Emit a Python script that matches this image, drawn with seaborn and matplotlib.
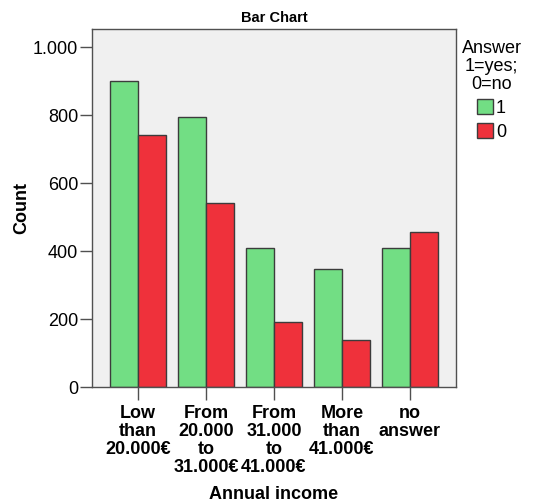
import pandas as pd
import matplotlib
matplotlib.use("Agg")
import matplotlib.pyplot as plt
import seaborn as sns
from matplotlib.ticker import FuncFormatter

# values
income = ["Low\nthan\n20.000€", "From\n20.000\nto\n31.000€", "From\n31.000\nto\n41.000€",
          "More\nthan\n41.000€", "no\nanswer"]
answer_yes = [901, 793, 409, 348, 409]
answer_no = [741, 542, 192, 139, 456]

df = pd.DataFrame({
    "income": income * 2,
    "answer": ["1"] * len(income) + ["0"] * len(income),
    "count": answer_yes + answer_no,
})

sns.set_style("white")
plt.rcParams['font.family'] = ['Liberation Sans', 'DejaVu Sans']
plt.rcParams['text.color'] = 'black'
plt.rcParams['axes.labelcolor'] = 'black'
plt.rcParams['xtick.labelcolor'] = 'black'
plt.rcParams['ytick.labelcolor'] = 'black'

fig = plt.figure(figsize=(5.44, 5.03), dpi=100)
ax = fig.add_axes([0.169, 0.2306, 0.669, 0.7117])
ax.set_facecolor("#f0f0f0")

sns.barplot(data=df, x="income", y="count", hue="answer", hue_order=["1", "0"],
            palette={"1": "#72de84", "0": "#ef313b"}, width=0.82, saturation=1,
            edgecolor="#3c3c3c", linewidth=1, ax=ax)

ax.set_xlim(-0.676, 4.676)
ax.set_ylim(0, 1053)
ax.set_yticks([0, 200, 400, 600, 800, 1000])
ax.yaxis.set_major_formatter(FuncFormatter(lambda v, p: f"{int(v):,}".replace(",", ".")))

for s in ax.spines.values():
    s.set_color("#505050")
    s.set_linewidth(1)

ax.tick_params(axis="both", direction="out", length=9, width=1, color="#505050",
               labelcolor="black", left=True, bottom=True)
ax.tick_params(axis="y", labelsize=13, pad=1)
ax.tick_params(axis="x", labelsize=13, pad=4)
for lab in ax.get_xticklabels():
    lab.set_fontweight("bold")
    lab.set_linespacing(1.08)
    lab.set_va("top")

ax.set_xlabel("Annual income", fontsize=13, fontweight="bold", labelpad=7, color="black")
ax.set_ylabel("Count", fontsize=13, fontweight="bold", labelpad=2, color="black")
ax.set_title("Bar Chart", fontsize=10.5, fontweight="bold", pad=5, color="black")

handles, labels = ax.get_legend_handles_labels()
ax.legend(handles, labels, title="Answer\n1=yes;\n0=no", loc="upper left",
          bbox_to_anchor=(0.996, 0.99), frameon=False, fontsize=13,
          title_fontsize=13, handlelength=0.9, handleheight=0.9,
          handletextpad=0.15, labelspacing=0.35, borderaxespad=0)
leg = ax.get_legend()
leg.get_title().set_multialignment("center")
leg.get_title().set_linespacing(1.08)
leg.get_title().set_color("black")
for t in leg.get_texts():
    t.set_color("black")

fig.savefig("out.png", dpi=100)
